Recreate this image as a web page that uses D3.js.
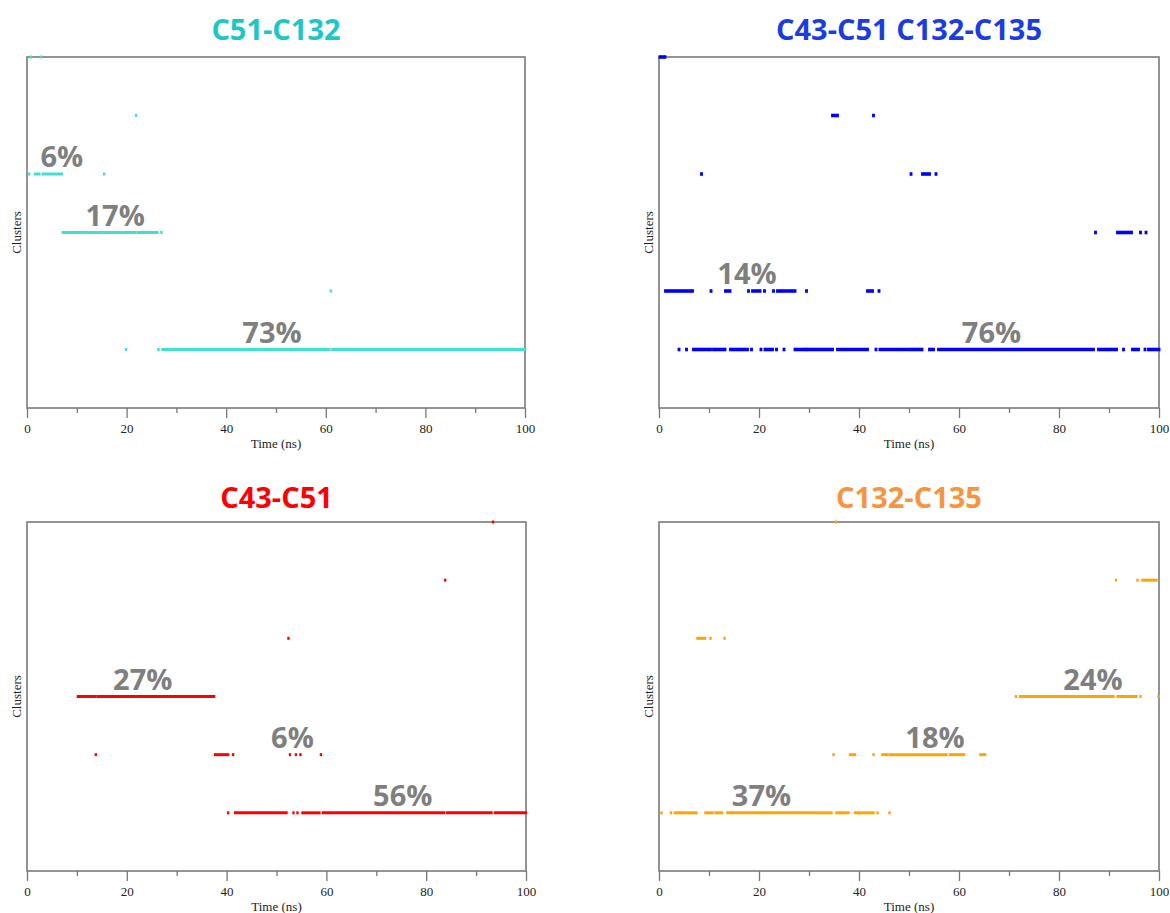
<!DOCTYPE html>
<html lang="en">
<head>
<meta charset="UTF-8" />
<title>Cluster occupancy over time</title>
<script src="https://d3js.org/d3.v7.min.js"></script>
<style>
  body { margin: 0; background: #fff; }
  svg { display: block; }
  .title { font-family: "Open Sans", sans-serif; font-weight: 700; font-size: 29px; text-anchor: middle; }
  .pct { font-family: "Open Sans", sans-serif; font-weight: 700; font-size: 29px; fill: #7f7f7f; text-anchor: middle; }
  .axis text { font-family: "Liberation Serif", "Times New Roman", serif; font-size: 13px; fill: #222; }
  .axis line { stroke: #777; stroke-width: 1.3; }
  .axis-label { font-family: "Liberation Serif", "Times New Roman", serif; font-size: 13px; fill: #222; text-anchor: middle; }
</style>
</head>
<body>
<div id="chart"></div>
<script>
// ---- data ----
const titles = ["C51-C132", "C43-C51 C132-C135", "C43-C51", "C132-C135"];
const xTicks = [0, 20, 40, 60, 80, 100];
const xMinorTicks = [10, 30, 50, 70, 90];
const clusterIds = [1, 2, 3, 4, 5, 6];

// visits per panel: [cluster, start ns, end ns] (single frames have no end)
const visitsC51C132 = [
  [6, 0.8], [6, 2.8],
  [5, 21.9],
  [4, 0.4], [4, 1.6, 2.5], [4, 3.2, 7.0], [4, 15.5],
  [3, 7.2, 11.6], [3, 12.1, 15.2], [3, 15.7, 19.7], [3, 20.1, 21.7], [3, 22.2, 26.2], [3, 27.0],
  [2, 61.0],
  [1, 19.9], [1, 26.4], [1, 27.2, 60.7], [1, 61.3, 100]
];
const visitsBoth = [
  [6, 0.2, 1.2],
  [5, 34.7, 35.7], [5, 42.9],
  [4, 8.5], [4, 50.4], [4, 52.7, 54.1], [4, 55.4],
  [3, 87.3], [3, 91.7, 94.5], [3, 96.3], [3, 97.4],
  [2, 1.3, 3.7], [2, 4.2, 5.2], [2, 5.7, 6.7], [2, 10.4], [2, 13.3, 14.2], [2, 17.9],
  [2, 18.7, 20.2], [2, 21.1], [2, 22.9], [2, 23.7, 24.7], [2, 25.2, 27.2], [2, 29.5],
  [2, 41.7, 42.7], [2, 44.0],
  [1, 4.0], [1, 5.5], [1, 6.9, 8.2], [1, 8.7, 10.3], [1, 10.9, 13.2], [1, 14.3, 17.7],
  [1, 18.5], [1, 20.4], [1, 21.2, 22.7], [1, 23.5], [1, 25.0], [1, 27.2, 29.3],
  [1, 29.7, 34.7], [1, 35.7, 41.7], [1, 43.4], [1, 44.2, 50.1], [1, 50.6, 52.6],
  [1, 54.1, 54.9], [1, 55.9, 86.9], [1, 87.9, 91.5], [1, 92.9], [1, 94.7, 95.9],
  [1, 97.2], [1, 97.9, 100]
];
const visitsC43C51 = [
  [6, 93.4],
  [5, 83.8],
  [4, 52.4],
  [3, 10.2, 13.6], [3, 14.1, 37.5],
  [2, 13.8], [2, 37.7, 40.3], [2, 41.3], [2, 52.7], [2, 53.9], [2, 54.8], [2, 58.9],
  [1, 40.3], [1, 41.7, 52.0], [1, 53.4], [1, 54.2], [1, 55.2, 58.6], [1, 59.3, 83.6],
  [1, 84.2, 93.1], [1, 93.8, 100]
];
const visitsC132C135 = [
  [6, 35.4],
  [5, 91.4], [5, 95.7], [5, 96.7, 99.5],
  [4, 7.7, 9.2], [4, 10.3], [4, 13.1],
  [3, 71.4], [3, 72.2, 90.9], [3, 91.7, 95.5], [3, 96.3], [3, 99.9],
  [2, 34.9], [2, 38.2, 39.2], [2, 42.9], [2, 44.7, 45.7], [2, 46.2, 57.5], [2, 58.2, 61.0], [2, 64.3, 65.2],
  [1, 0.5], [1, 2.4], [1, 3.2, 7.5], [1, 9.3, 10.7], [1, 11.3, 12.6], [1, 13.7, 31.3],
  [1, 31.7, 34.5], [1, 35.5, 37.9], [1, 39.2, 42.9], [1, 43.7], [1, 46.1]
];

// population labels: [cluster, time at centre, text]
const labelsC51C132 = [[4, 7.0, "6%"], [3, 17.7, "17%"], [1, 49.2, "73%"]];
const labelsBoth = [[2, 17.6, "14%"], [1, 66.5, "76%"]];
const labelsC43C51 = [[3, 23.2, "27%"], [2, 53.2, "6%"], [1, 75.3, "56%"]];
const labelsC132C135 = [[1, 20.5, "37%"], [2, 55.2, "18%"], [3, 86.8, "24%"]];

// ---- layout ----
const width = 1170, height = 913;
const panels = [
  { x0: 27,  x1: 525,  y0: 57,  y1: 408, titleY: 40,  titleColor: "#1ec6c6", color: "#40e0d0", w: 3,   visits: visitsC51C132,  labels: labelsC51C132 },
  { x0: 659, x1: 1159, y0: 57,  y1: 408, titleY: 40,  titleColor: "#1c3ce0", color: "#0000ff", w: 3.6, visits: visitsBoth,     labels: labelsBoth },
  { x0: 27,  x1: 526,  y0: 522, y1: 871, titleY: 508, titleColor: "#ff0000", color: "#ff0000", w: 3,   visits: visitsC43C51,   labels: labelsC43C51 },
  { x0: 659, x1: 1159, y0: 522, y1: 871, titleY: 508, titleColor: "#f7953f", color: "#ffa500", w: 3,   visits: visitsC132C135, labels: labelsC132C135 }
];

const svg = d3.select("#chart").append("svg")
  .attr("width", width)
  .attr("height", height);

panels.forEach((p, i) => {
  const x = d3.scaleLinear().domain([0, 100]).range([p.x0, p.x1]);
  const y = d3.scaleLinear().domain([0, d3.max(clusterIds)]).range([p.y1, p.y0]);
  const g = svg.append("g");

  // title
  g.append("text")
    .attr("class", "title")
    .attr("x", (p.x0 + p.x1) / 2)
    .attr("y", p.titleY)
    .attr("fill", p.titleColor)
    .text(titles[i]);

  // frame
  g.append("rect")
    .attr("x", p.x0).attr("y", p.y0)
    .attr("width", p.x1 - p.x0).attr("height", p.y1 - p.y0)
    .attr("fill", "none")
    .attr("stroke", "#7a7a7a")
    .attr("stroke-width", 1.6);

  // bottom axis, major + minor ticks
  g.append("g")
    .attr("class", "axis")
    .attr("transform", `translate(0,${p.y1})`)
    .call(d3.axisBottom(x).tickValues(xTicks).tickSizeInner(10).tickSizeOuter(0).tickPadding(6))
    .call(a => a.select(".domain").remove());
  g.append("g")
    .attr("class", "axis")
    .attr("transform", `translate(0,${p.y1})`)
    .call(d3.axisBottom(x).tickValues(xMinorTicks).tickSizeInner(5).tickSizeOuter(0).tickFormat(""))
    .call(a => a.select(".domain").remove());

  // axis labels
  g.append("text")
    .attr("class", "axis-label")
    .attr("x", (p.x0 + p.x1) / 2)
    .attr("y", p.y1 + 40)
    .text("Time (ns)");
  g.append("text")
    .attr("class", "axis-label")
    .attr("transform", `translate(${p.x0 - 6},${(p.y0 + p.y1) / 2}) rotate(-90)`)
    .text("Clusters");

  // cluster visits (measured ends are outer edges, so pad only a little)
  const pad = p.w * 0.4;
  g.append("g")
    .selectAll("line")
    .data(p.visits)
    .join("line")
    .attr("x1", d => x(d[1]) - pad)
    .attr("x2", d => x(d[2] ?? d[1]) + pad)
    .attr("y1", d => y(d[0]))
    .attr("y2", d => y(d[0]))
    .attr("stroke", p.color)
    .attr("stroke-width", p.w)
    .attr("stroke-linecap", "butt");

  // population percentages
  g.append("g")
    .selectAll("text")
    .data(p.labels)
    .join("text")
    .attr("class", "pct")
    .attr("x", d => x(d[1]))
    .attr("y", d => y(d[0]) - 7)
    .text(d => d[2]);
});
</script>
</body>
</html>
